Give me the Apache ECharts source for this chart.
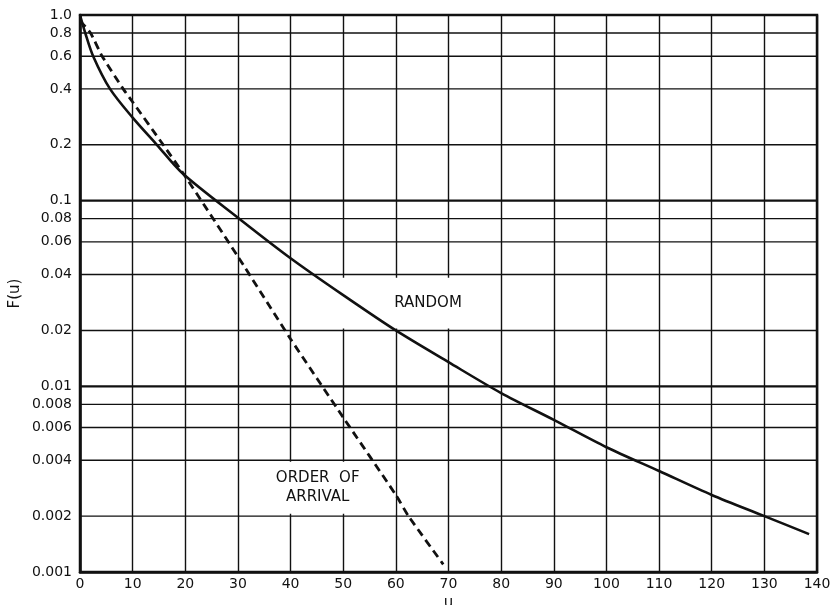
<!DOCTYPE html>
<html>
<head>
<meta charset="utf-8">
<script src="https://cdn.jsdelivr.net/npm/echarts@6/dist/echarts.min.js"></script>
<style>
  html, body { margin: 0; padding: 0; background: #fff; }
  #chart { width: 833px; height: 605px; }
</style>
</head>
<body>
<div id="chart"></div>
<script>
// F(u) for the two service disciplines
const randomU = [0, 1, 2.5, 5.7, 10, 14.6, 19.4, 30, 40, 50, 60, 70, 80, 90, 100, 110, 120, 130, 138.5];
const randomF = [1.0, 0.8, 0.6, 0.4, 0.28, 0.2, 0.141, 0.081, 0.049, 0.031, 0.020, 0.0135, 0.0092, 0.0066, 0.0047, 0.0035, 0.0026, 0.002, 0.0016];

const arrivalU = [0, 2, 4.2, 8.2, 10, 15.8, 20, 30, 40, 50, 60, 62.4, 69];
const arrivalF = [0.93, 0.8, 0.6, 0.4, 0.34, 0.2, 0.135, 0.05, 0.018, 0.0068, 0.0026, 0.002, 0.0011];

// Log-paper rulings and their labels
const yTickValues = [1.0, 0.8, 0.6, 0.4, 0.2, 0.1, 0.08, 0.06, 0.04, 0.02, 0.01, 0.008, 0.006, 0.004, 0.002, 0.001];
const yTickLabels = ['1.0', '0.8', '0.6', '0.4', '0.2', '0.1', '0.08', '0.06', '0.04', '0.02', '0.01', '0.008', '0.006', '0.004', '0.002', '0.001'];
const decadeValues = [1.0, 0.1, 0.01, 0.001];

const seriesNames = ['RANDOM', 'ORDER  OF\nARRIVAL'];

const X_MIN = 0, X_MAX = 140;
const FONT = 'DejaVu Sans';
const INK = '#111';

const pair = (xs, ys) => xs.map((x, i) => [x, ys[i]]);

const chart = echarts.init(document.getElementById('chart'), null, { renderer: 'canvas' });

// one horizontal ruling per tick value, with its label left of the frame
function renderRuling(params, api) {
  const v = api.value(1);
  const idx = params.dataIndex;
  const a = api.coord([X_MIN, v]);
  const b = api.coord([X_MAX, v]);
  const heavy = decadeValues.includes(v);
  return {
    type: 'group',
    children: [
      {
        type: 'line',
        shape: { x1: a[0], y1: a[1], x2: b[0], y2: b[1] },
        style: { stroke: INK, lineWidth: heavy ? 2.2 : 1.4 }
      },
      {
        type: 'text',
        x: a[0] - 8, y: a[1],
        style: {
          text: yTickLabels[idx], fill: INK, font: '14px "' + FONT + '"',
          textAlign: 'right', textVerticalAlign: 'middle'
        }
      }
    ]
  };
}

chart.setOption({
  animation: false,
  backgroundColor: '#fff',
  grid: {
    left: 80, right: 16, top: 15, bottom: 33,
    outerBoundsMode: 'none', containLabel: false,
    show: true, borderColor: INK, borderWidth: 2.5, backgroundColor: 'transparent'
  },
  xAxis: {
    type: 'value', min: X_MIN, max: X_MAX, interval: 10,
    name: 'u', nameLocation: 'middle', nameGap: 16,
    nameTextStyle: { fontFamily: FONT, fontSize: 15, color: INK },
    axisLine: { show: true, lineStyle: { color: INK, width: 2.5 } },
    axisTick: { show: false },
    axisLabel: { fontFamily: FONT, fontSize: 14, color: INK, margin: 5 },
    splitLine: { show: true, lineStyle: { color: INK, width: 1.4 } }
  },
  yAxis: {
    type: 'log', logBase: 10, min: 0.001, max: 1,
    name: 'F(u)', nameLocation: 'middle', nameGap: 57,
    nameTextStyle: { fontFamily: FONT, fontSize: 15, color: INK },
    axisLine: { show: true, lineStyle: { color: INK, width: 2.5 } },
    axisTick: { show: false },
    axisLabel: { show: false },
    splitLine: { show: false }
  },
  series: [
    {
      type: 'custom', z: 1, silent: true, clip: false,
      renderItem: renderRuling,
      data: yTickValues.map(v => [X_MIN, v])
    },
    {
      // white label panels over the ruling
      type: 'line', z: 2, silent: true,
      data: [[0, 1]], symbol: 'none', lineStyle: { opacity: 0 },
      markArea: {
        silent: true,
        itemStyle: { color: '#fff', opacity: 1 },
        label: {
          show: true, position: 'inside', fontFamily: FONT, fontSize: 15,
          color: INK, lineHeight: 19
        },
        data: [
          [{ coord: [49.5, 0.0385], label: { formatter: seriesNames[0], offset: [9, 0] } }, { coord: [79.3, 0.0205] }],
          [{ coord: [30.4, 0.00392], label: { formatter: seriesNames[1] } }, { coord: [59.9, 0.00206] }]
        ]
      }
    },
    {
      name: seriesNames[0],
      type: 'line', z: 3, data: pair(randomU, randomF),
      smooth: 0.3, symbol: 'none',
      lineStyle: { color: INK, width: 2.6 }
    },
    {
      name: seriesNames[1],
      type: 'line', z: 3, data: pair(arrivalU, arrivalF),
      smooth: 0.2, symbol: 'none',
      lineStyle: { color: INK, width: 2.8, type: [8, 5] }
    }
  ]
});
</script>
</body>
</html>
